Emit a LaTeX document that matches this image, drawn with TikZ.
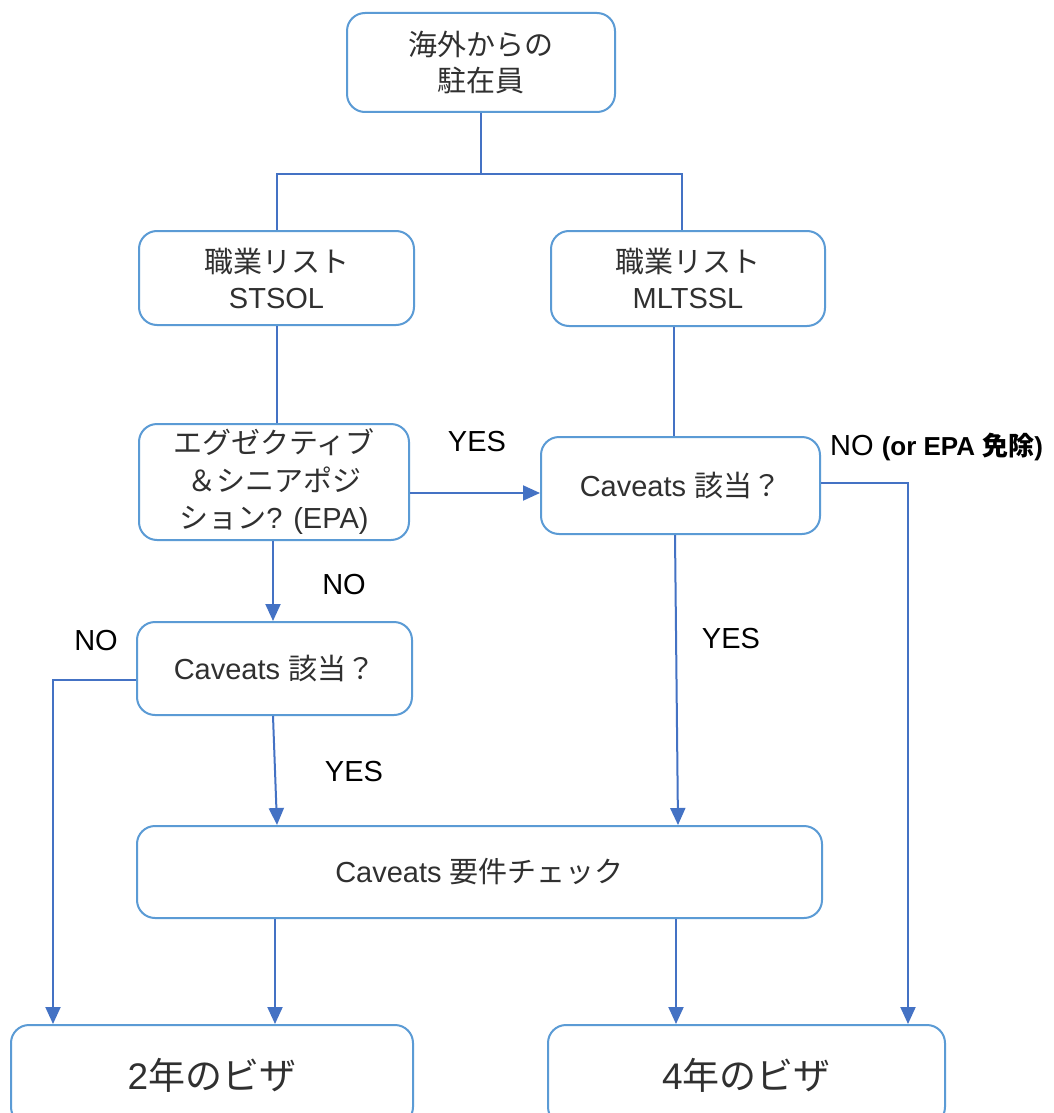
\documentclass[tikz,border=0pt]{standalone}
\usepackage{fontspec}
\setmainfont{Liberation Sans}
\newfontfamily\jp{Noto Sans CJK JP}
\usetikzlibrary{arrows.meta,calc}
\definecolor{boxc}{HTML}{5B9BD5}
\definecolor{linec}{HTML}{4472C4}
\definecolor{txt}{HTML}{303030}
\begin{document}
\begin{tikzpicture}[x=1pt,y=-1pt,
  box/.style={draw=boxc,line width=2pt,rounded corners=18pt,align=center,
    text=txt,font=\fontsize{29}{36}\selectfont,inner sep=0pt},
  conn/.style={draw=linec,line width=2pt},
  arr/.style={conn,-{Triangle[length=17pt,width=15pt]}},
  lab/.style={font=\fontsize{29}{35}\selectfont,inner sep=0pt,text=black}]
\useasboundingbox (0,0) rectangle (1054,1113);
\fill[white] (0,0) rectangle (1054,1113);
\clip (0,0) rectangle (1054,1113);

\node[box,minimum width=268pt,minimum height=99pt] (top) at (481,62.5)
  {\jp 海外からの\\\jp 駐在員};
\node[box,minimum width=275pt,minimum height=94pt] (stsol) at (276.5,278)
  {\jp 職業リスト\\STSOL};
\node[box,minimum width=274pt,minimum height=95pt] (mltssl) at (688,278.5)
  {\jp 職業リスト\\MLTSSL};
\node[box,minimum width=270pt,minimum height=116pt,font=\fontsize{29}{37.5}\selectfont] (epa) at (274,482)
  {\jp エグゼクティブ\\\jp ＆シニアポジ\\{\jp ション}? (EPA)};
\node[box,minimum width=279pt,minimum height=97pt] (cavR) at (680.5,485.5)
  {Caveats {\jp 該当？}};
\node[box,minimum width=275pt,minimum height=93pt] (cavL) at (274.5,668.5)
  {Caveats {\jp 該当？}};
\node[box,minimum width=685pt,minimum height=92pt] (check) at (479.5,872)
  {Caveats {\jp 要件チェック}};
\node[box,minimum width=402pt,minimum height=100pt,font=\fontsize{37}{44}\selectfont] (v2) at (212,1075)
  {2{\jp 年のビザ}};
\node[box,minimum width=397pt,minimum height=100pt,font=\fontsize{37}{44}\selectfont] (v4) at (746.5,1075)
  {4{\jp 年のビザ}};

% split from top
\coordinate (split) at (481,174);
\coordinate (splitL) at (276.5,174);
\coordinate (splitR) at (682,174);
\draw[conn] (top.south) -- (split);
\draw[conn] (stsol.north) -- (splitL) -- (splitR) -- (splitR |- mltssl.north);

% STSOL -> EPA
\draw[conn] (stsol.south) -- (stsol.south |- epa.north);
% MLTSSL -> Caveats right
\coordinate (mA) at ($(mltssl.south)+(-14,0)$);
\coordinate (mB) at ($(cavR.north)+(-6.5,0)$);
\draw[conn] (mA) -- (mB);

% EPA -> Caveats right (YES)
\coordinate (eA) at ($(epa.east)+(0,11)$);
\draw[arr] (eA) -- (eA -| cavR.west);
\node[lab] (yes1) at (477,442) {YES};

% EPA -> Caveats left (NO)
\coordinate (eB) at ($(epa.south)+(-1,0)$);
\coordinate (cB) at ($(cavL.north)+(-1.5,0)$);
\draw[arr] (eB) -- (cB);
\node[lab] (no1) at (344,585) {NO};

% Caveats left -> 2 years (NO)
\coordinate (lA) at ($(cavL.west)+(0,11.5)$);
\coordinate (lcorner) at (53,680);
\draw[arr] (lA) -- (lcorner) -- (lcorner |- v2.north);
\node[lab] (no2) at (96,641) {NO};

% Caveats left -> check (YES)
\coordinate (lB) at ($(cavL.south)+(-1.5,0)$);
\coordinate (kA) at ($(check.north)+(-202.5,0)$);
\draw[arr] (lB) -- (kA);
\node[lab] (yes2) at (354,772) {YES};

% Caveats right -> check (YES)
\coordinate (rB) at ($(cavR.south)+(-5.5,0)$);
\coordinate (kB) at ($(check.north)+(198.5,0)$);
\draw[arr] (rB) -- (kB);
\node[lab] (yes3) at (731,639) {YES};

% Caveats right -> 4 years (NO)
\coordinate (rA) at ($(cavR.east)+(0,-2.5)$);
\coordinate (rcorner) at (908,483);
\draw[arr] (rA) -- (rcorner) -- (rcorner |- v4.north);
\node[lab,anchor=west] (no3) at (830,447) {NO {\fontsize{26}{30}\selectfont\bfseries (or EPA {\jp 免除})}};

% check -> visas
\coordinate (kC) at ($(check.south)+(-204.5,0)$);
\coordinate (kD) at ($(check.south)+(196.5,0)$);
\draw[arr] (kC) -- (kC |- v2.north);
\draw[arr] (kD) -- (kD |- v4.north);
\end{tikzpicture}
\end{document}
